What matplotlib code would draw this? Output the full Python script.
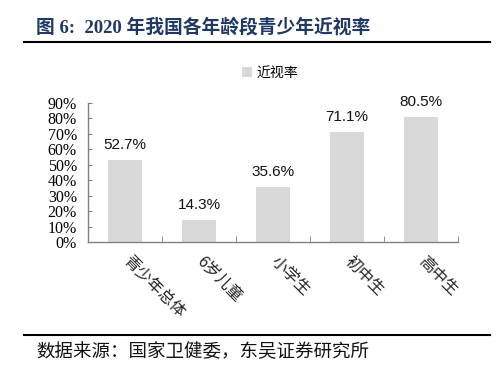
import matplotlib
matplotlib.use("Agg")
import matplotlib.pyplot as plt
import numpy as np
from matplotlib.ticker import FuncFormatter, FixedLocator

categories = ["青少年总体", "6岁儿童", "小学生", "初中生", "高中生"]
values = [52.7, 14.3, 35.6, 71.1, 80.5]
value_labels = ["52.7%", "14.3%", "35.6%", "71.1%", "80.5%"]
series_name = "近视率"
title = "图 6:  2020 年我国各年龄段青少年近视率"
source = "数据来源：国家卫健委，东吴证券研究所"

plt.rcParams['font.family'] = ['Noto Sans CJK SC', 'DejaVu Sans']

fig = plt.figure(figsize=(5.0, 3.67), dpi=100)
ax = fig.add_axes([0.176, 0.3406, 0.740, 0.3794])

x = np.arange(len(categories))
bar_color = '#d9d9d9'
bars = ax.bar(x, values, width=0.45, color=bar_color, label=series_name, zorder=2)

for xi, v, lab in zip(x, values, value_labels):
    ax.annotate(lab, (xi, v), xytext=(0, 6), textcoords='offset points',
                ha='center', va='bottom', fontsize=11,
                family=['Liberation Sans', 'DejaVu Sans'], color='#111111')

ax.set_xlim(-0.5, len(categories) - 0.5)
ax.set_ylim(0, 90)
ax.set_yticks(np.arange(0, 91, 10))
ax.yaxis.set_major_formatter(FuncFormatter(lambda v, p: f"{int(v)}%"))
for t in ax.get_yticklabels():
    t.set_family(['Liberation Serif', 'DejaVu Serif'])
    t.set_fontsize(11.5)
ax.tick_params(axis='y', direction='in', length=3, color='#808080', pad=8)

ax.set_xticks(x)
ax.set_xticklabels(categories, rotation=-45, rotation_mode='anchor',
                   ha='left', va='center', fontsize=11.5, color='#222222')
ax.tick_params(axis='x', which='major', length=0, pad=12)
ax.xaxis.set_minor_locator(FixedLocator(np.arange(-0.5, len(categories), 1.0)))
ax.tick_params(axis='x', which='minor', direction='in', length=4, color='#808080')

for s in ['top', 'right']:
    ax.spines[s].set_visible(False)
for s in ['left', 'bottom']:
    ax.spines[s].set_color('#808080')
    ax.spines[s].set_linewidth(1.0)

leg = ax.legend(loc='center', bbox_to_anchor=(270 / 500, 1 - 73 / 367),
                bbox_transform=fig.transFigure, frameon=False, fontsize=10,
                handlelength=0.7, handleheight=0.7, handletextpad=0.3)

fig.text(36 / 500, 1 - 27 / 367, title, fontsize=13.5, fontweight='bold',
         color='#1f3864', family=['Liberation Serif', 'Noto Sans CJK SC'],
         ha='left', va='center')
fig.add_artist(plt.Line2D([24 / 500, 490 / 500], [1 - 42 / 367, 1 - 42 / 367],
                          color='black', linewidth=1.5, transform=fig.transFigure))
fig.add_artist(plt.Line2D([24 / 500, 490 / 500], [1 - 335 / 367, 1 - 335 / 367],
                          color='black', linewidth=1.5, transform=fig.transFigure))
fig.text(36 / 500, 1 - 352 / 367, source, fontsize=13.3, color='#111111',
         ha='left', va='center')

fig.savefig('out.png', dpi=100)
